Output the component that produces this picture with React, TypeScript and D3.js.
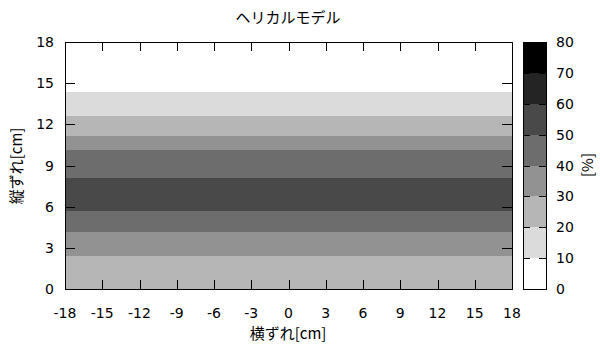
import React from "react";
import * as d3 from "d3";

const xTicks = [-18, -15, -12, -9, -6, -3, 0, 3, 6, 9, 12, 15, 18];
const yTicks = [0, 3, 6, 9, 12, 15, 18];
const cbTicks = [0, 10, 20, 30, 40, 50, 60, 70, 80];
// horizontal band edges (vertical offset, cm) and the value (%) in each band
const bandEdges = [0, 2.38, 4.15, 5.66, 8.09, 10.15, 11.12, 12.58, 14.36, 18];
const bandValues = [25, 35, 45, 55, 45, 35, 25, 15, 5];
const grayLevels = [255, 219, 182, 146, 109, 73, 36, 0];

const W = 600, H = 344;
const L = 65, R = 512, T = 42, B = 289;
const CBL = 523, CBR = 546;

export default function App() {
  const x = d3.scaleLinear().domain([-18, 18]).range([L, R]);
  const y = d3.scaleLinear().domain([0, 18]).range([B, T]);
  const cy = d3.scaleLinear().domain([0, 80]).range([B, T]);
  const colors = grayLevels.map((g) => d3.rgb(g, g, g).formatHex());
  const color = d3.scaleQuantize<string>().domain([0, 80]).range(colors);
  const font = "'DejaVu Sans', Verdana, sans-serif";
  const jfont = "'Noto Sans CJK JP', sans-serif";
  const cbBands = d3.range(colors.length).map((i) => [i * 10, i * 10 + 10]);

  return (
    <svg width={W} height={H} style={{ position: "absolute", left: 0, top: 0, background: "#fff" }}>
      {bandValues.map((v, i) => (
        <rect key={i} x={x(-18)} width={x(18) - x(-18)}
          y={y(bandEdges[i + 1])} height={y(bandEdges[i]) - y(bandEdges[i + 1])}
          fill={color(v)} shapeRendering="crispEdges" />
      ))}
      {xTicks.map((t) => (
        <g key={"x" + t}>
          <line x1={Math.round(x(t)) + 0.5} x2={Math.round(x(t)) + 0.5} y1={B} y2={B - 9} stroke="#000" />
          <line x1={Math.round(x(t)) + 0.5} x2={Math.round(x(t)) + 0.5} y1={T} y2={T + 9} stroke="#000" />
          <text x={x(t)} y={318} textAnchor="middle" fontFamily={font} fontSize={14} fill="#000">{t}</text>
        </g>
      ))}
      {yTicks.map((t) => (
        <g key={"y" + t}>
          <line x1={L} x2={L + 10} y1={Math.round(y(t)) + 0.5} y2={Math.round(y(t)) + 0.5} stroke="#000" />
          <line x1={R} x2={R - 10} y1={Math.round(y(t)) + 0.5} y2={Math.round(y(t)) + 0.5} stroke="#000" />
          <text x={54} y={y(t) + 5} textAnchor="end" fontFamily={font} fontSize={14} fill="#000">{t}</text>
        </g>
      ))}
      <rect x={L + 0.5} y={T + 0.5} width={R - L} height={B - T} fill="none" stroke="#000" />

      {cbBands.map(([a, b], i) => (
        <rect key={"cb" + i} x={CBL} width={CBR - CBL} y={cy(b)} height={cy(a) - cy(b)}
          fill={color((a + b) / 2)} shapeRendering="crispEdges" />
      ))}
      {cbTicks.map((t) => (
        <g key={"c" + t}>
          <line x1={CBL} x2={CBL + 7} y1={Math.round(cy(t)) + 0.5} y2={Math.round(cy(t)) + 0.5} stroke="#000" />
          <line x1={CBR} x2={CBR - 7} y1={Math.round(cy(t)) + 0.5} y2={Math.round(cy(t)) + 0.5} stroke="#000" />
          <text x={556} y={cy(t) + 5} textAnchor="start" fontFamily={font} fontSize={14} fill="#000">{t}</text>
        </g>
      ))}
      <rect x={CBL + 0.5} y={T + 0.5} width={CBR - CBL} height={B - T} fill="none" stroke="#000" />

      <text x={288} y={23} textAnchor="middle" fontFamily={jfont} fontSize={15} fill="#000">ヘリカルモデル</text>
      <text x={288} y={339} textAnchor="middle" fontFamily={jfont} fontSize={15} fill="#000">横ずれ[cm]</text>
      <text transform={`translate(22,166) rotate(-90)`} textAnchor="middle" fontFamily={jfont} fontSize={15} fill="#000">縦ずれ[cm]</text>
      <text transform={`translate(593,165) rotate(-90)`} textAnchor="middle" fontFamily={jfont} fontSize={15} fill="#000">[%]</text>
    </svg>
  );
}
